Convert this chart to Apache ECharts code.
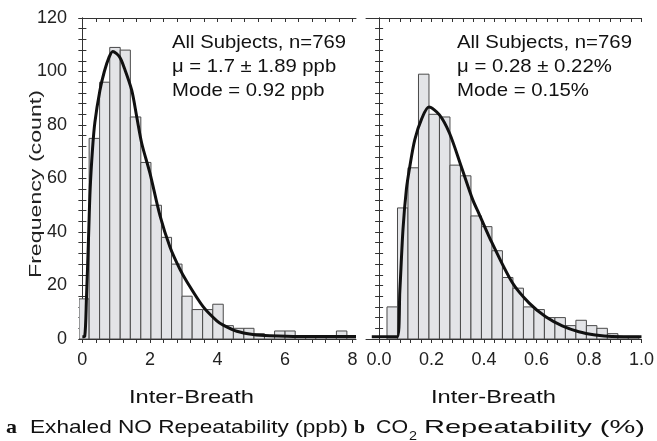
<!DOCTYPE html>
<html>
<head>
<meta charset="utf-8">
<script src="https://cdn.jsdelivr.net/npm/echarts@6/dist/echarts.min.js"></script>
<style>
html, body { margin: 0; padding: 0; background: #fff; }
#chart { width: 657px; height: 441px; }
</style>
</head>
<body>
<div id="chart"></div>
<script>
// panel a: exhaled NO (ppb), bin edges + counts
const noEdges = [-0.1, 0.2, 0.51, 0.81, 1.12, 1.42, 1.73, 2.03, 2.34, 2.64, 2.95, 3.25, 3.56, 3.86,
  4.17, 4.47, 4.78, 5.08, 5.39, 5.69, 6.0, 6.3, 6.61, 6.91, 7.22, 7.52, 7.83, 8.13]
const noCounts = [15, 75, 96, 109, 108, 83, 66, 50, 38, 28, 16, 11, 11, 13, 5, 4, 4, 2, 1, 3, 3, 1, 1, 1, 1, 3, 1]
const noFitX = [0.0, 0.07, 0.12, 0.18, 0.23, 0.3, 0.37, 0.52, 0.65, 0.78, 0.9, 1.1, 1.25, 1.46, 1.61, 1.76,
  2.0, 2.3, 2.59, 2.89, 3.09, 3.58, 3.98, 4.17, 4.57, 5.05, 5.55, 6.44, 8.1]
const noFitY = [0.8, 1, 15, 37, 56, 71, 81, 93, 100, 105, 107.5, 105.5, 101, 93, 83, 73,
  62, 46, 34.5, 26, 21.5, 12, 6.8, 5.2, 2.9, 1.7, 1.2, 0.9, 0.9]

// panel b: CO2 (%), bin edges + counts
const co2Edges = [0.03, 0.07, 0.11, 0.15, 0.19, 0.23, 0.27, 0.31, 0.35, 0.39, 0.43, 0.47, 0.51, 0.55,
  0.59, 0.63, 0.67, 0.71, 0.75, 0.79, 0.83, 0.87, 0.91, 0.95, 0.99]
const co2Counts = [12, 49, 64, 99, 84, 83, 65, 61, 46, 42, 33, 23, 19, 12, 11, 8, 8, 5, 7, 5, 4, 2, 1, 1]
const co2FitX = [-0.028, 0.069, 0.079, 0.091, 0.104, 0.117, 0.136, 0.161, 0.19, 0.23, 0.268, 0.313,
  0.357, 0.38, 0.43, 0.508, 0.572, 0.635, 0.698, 0.761, 0.824, 0.887, 1.0]
const co2FitY = [0.8, 0.8, 18, 41, 56, 64.5, 74.5, 82, 86.7, 83.8, 77, 64.5,
  52, 47, 36, 21, 13.4, 8.3, 4.9, 2.7, 1.5, 0.9, 0.8]

// tick positions / labels
const noTicks = [0, 0.4, 0.8, 1.2, 1.6, 2, 2.4, 2.8, 3.2, 3.6, 4, 4.4, 4.8, 5.2, 5.6, 6, 6.4, 6.8, 7.2, 7.6, 8]
const noLabels = [0, 2, 4, 6, 8]
const co2Ticks = [0, 0.04, 0.08, 0.12, 0.16, 0.2, 0.24, 0.28, 0.32, 0.36, 0.4, 0.44, 0.48, 0.52,
  0.56, 0.6, 0.64, 0.68, 0.72, 0.76, 0.8, 0.84, 0.88, 0.92, 0.96, 1.0]
const co2Labels = [0, 0.2, 0.4, 0.6, 0.8, 1.0]

const chart = echarts.init(document.getElementById('chart'))

const FONT = 'Liberation Sans, Arial, sans-serif'
const axisColor = '#333'

// measure text so it can be stretched to the width seen in the figure
const measureCtx = document.createElement('canvas').getContext('2d')
function textWidth(s, size, family, weight) {
  measureCtx.font = (weight || 'normal') + ' ' + size + 'px ' + family
  return measureCtx.measureText(s).width
}

function histSeries(edges, counts, idx) {
  return {
    type: 'custom',
    xAxisIndex: idx * 2,
    yAxisIndex: idx * 2,
    clip: true,
    data: counts.map((c, i) => [edges[i], edges[i + 1], c]),
    renderItem: function(params, api) {
      const p0 = api.coord([api.value(0), api.value(2)])
      const p1 = api.coord([api.value(1), 0])
      return {
        type: 'rect',
        shape: { x: p0[0], y: p0[1], width: p1[0] - p0[0], height: p1[1] - p0[1] },
        style: { fill: '#e3e4e7', stroke: '#4a4a4a', lineWidth: 1 }
      }
    },
    silent: true
  }
}

function fitSeries(xs, ys, idx) {
  return {
    type: 'line',
    xAxisIndex: idx * 2,
    yAxisIndex: idx * 2,
    data: xs.map((x, i) => [x, ys[i]]),
    smooth: 0.3,
    showSymbol: false,
    clip: true,
    lineStyle: { color: '#111', width: 3 },
    z: 5
  }
}

function xAxes(grid, min, max, ticks, labels, fmt) {
  return [
    {
      type: 'value', gridIndex: grid, position: 'bottom', min: min, max: max,
      axisLine: { show: true, onZero: false, lineStyle: { color: axisColor } },
      axisTick: { show: true, inside: false, length: 4, customValues: ticks, lineStyle: { color: axisColor } },
      axisLabel: { customValues: labels, formatter: fmt, fontSize: 18, color: '#222', fontFamily: FONT, margin: 12 },
      splitLine: { show: false }
    },
    {
      type: 'value', gridIndex: grid, position: 'top', min: min, max: max,
      axisLine: { show: true, onZero: false, lineStyle: { color: axisColor } },
      axisTick: { show: true, inside: true, length: 4, customValues: ticks, lineStyle: { color: axisColor } },
      axisLabel: { show: false },
      splitLine: { show: false }
    }
  ]
}

function yAxes(grid, showLabels) {
  const base = {
    type: 'value', gridIndex: grid, min: 0, max: 120, interval: 20,
    axisLine: { show: true, lineStyle: { color: axisColor } },
    axisTick: { show: true, inside: true, length: 4, lineStyle: { color: axisColor } },
    minorTick: { show: true, splitNumber: 5, length: 4, lineStyle: { color: axisColor } },
    splitLine: { show: false }
  }
  return [
    Object.assign({}, base, {
      position: 'left',
      axisLabel: { show: showLabels, fontSize: 18, color: '#222', fontFamily: FONT, margin: 12 }
    }),
    Object.assign({}, base, { position: 'right', axisLabel: { show: false } })
  ]
}

// text placed from x0, stretched so that it ends at x1
function fitText(x0, x1, y, s, size, opt) {
  opt = opt || {}
  const family = opt.fontFamily || FONT
  const w = textWidth(s, size, family, opt.fontWeight)
  return {
    type: 'text', x: x0, y: y, silent: true, scaleX: (x1 - x0) / w,
    rotation: opt.rotation || 0,
    style: {
      text: s, fontSize: size, fontFamily: family, fontWeight: opt.fontWeight || 'normal',
      fill: opt.fill || '#111', align: 'left', verticalAlign: 'middle'
    }
  }
}

function annot(x0, x1, lines, y0) {
  const w = textWidth(lines[0], 19, FONT)
  const sx = (x1 - x0) / w
  return lines.map((s, i) => ({
    type: 'text', x: x0, y: y0 + i * 24, silent: true, scaleX: sx,
    style: { text: s, fontSize: 19, fontFamily: FONT, fill: '#111', align: 'left', verticalAlign: 'middle' }
  }))
}

const noNotes = ['All Subjects, n=769', 'μ = 1.7 ± 1.89 ppb', 'Mode = 0.92 ppb']
const co2Notes = ['All Subjects, n=769', 'μ = 0.28 ± 0.22%', 'Mode = 0.15%']

const title = fitText(0, 188, 0, 'Frequency (count)', 17, { fill: '#222' })
// rotated title: stretched along its own length, centred on (36, 184)
title.rotation = Math.PI / 2
title.x = 36
title.y = 184 + 94
title.style.verticalAlign = 'middle'

chart.setOption({
  animation: false,
  grid: [
    { left: 79, top: 18, width: 277, height: 321 },
    { left: 366, top: 18, width: 277, height: 321 }
  ],
  xAxis: xAxes(0, -0.1, 8.1, noTicks, noLabels, v => String(v))
    .concat(xAxes(1, -0.05, 1.0, co2Ticks, co2Labels, v => v.toFixed(1))),
  yAxis: yAxes(0, true).concat(yAxes(1, false)),
  series: [
    histSeries(noEdges, noCounts, 0),
    fitSeries(noFitX, noFitY, 0),
    histSeries(co2Edges, co2Counts, 1),
    fitSeries(co2FitX, co2FitY, 1)
  ],
  graphic: [title]
    .concat(annot(172, 346, noNotes, 43))
    .concat(annot(457, 632, co2Notes, 43))
    .concat([
      fitText(129, 254, 398, 'Inter-Breath', 19),
      fitText(431, 556, 398, 'Inter-Breath', 19),
      fitText(6, 17, 428, 'a', 19, { fontFamily: 'Liberation Serif, serif', fontWeight: 'bold' }),
      fitText(30, 348, 428, 'Exhaled NO Repeatability (ppb)', 19),
      fitText(354, 365, 428, 'b', 19, { fontFamily: 'Liberation Serif, serif', fontWeight: 'bold' }),
      fitText(376, 408, 428, 'CO', 19),
      fitText(409, 417, 436, '2', 13),
      fitText(424, 645, 428, 'Repeatability (%)', 19)
    ])
})
</script>
</body>
</html>
